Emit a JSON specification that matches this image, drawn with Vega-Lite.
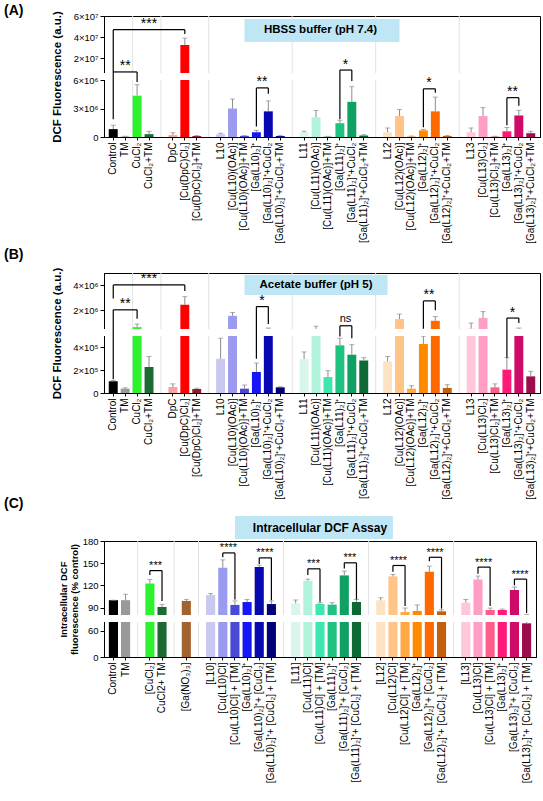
{
  "$schema": "https://vega.github.io/schema/vega-lite/v6.json",
  "padding": {"left": 3, "top": 3, "right": 2, "bottom": 2},
  "config": {
    "font": "Liberation Sans",
    "view": {"stroke": "#000", "strokeWidth": 1},
    "axis": {"domainColor": "#000", "tickColor": "#000", "labelColor": "#000", "titleColor": "#000", "grid": false, "labelFont": "Liberation Sans", "titleFont": "Liberation Sans"},
    "title": {"font": "Liberation Sans", "color": "#000"},
    "text": {"font": "Liberation Sans", "color": "#000"}
  },
  "datasets": {
    "bars": [
      {"p": "A", "x": "Control", "k": "ctrl", "v": 830000, "e": 1240000},
      {"p": "A", "x": "TM", "k": "tm", "v": 50000, "e": 80000},
      {"p": "A", "x": "CuCl₂", "k": "cu", "v": 4350000, "e": 5500000},
      {"p": "A", "x": "CuCl₂+TM", "k": "cutm", "v": 300000, "e": 600000},
      {"p": "A", "x": "DpC", "k": "dpc", "v": 200000, "e": 450000},
      {"p": "A", "x": "[Cu(DpC)Cl₂]", "k": "cudpc", "v": 32500000, "e": 39000000},
      {"p": "A", "x": "[Cu(DpC)Cl₂]+TM", "k": "cudpctm", "v": 100000, "e": 150000},
      {"p": "A", "x": "L10", "k": "l10", "v": 300000, "e": 400000},
      {"p": "A", "x": "[Cu(L10)(OAc)]", "k": "cul10", "v": 3000000, "e": 4000000},
      {"p": "A", "x": "[Cu(L10)(OAc)]+TM", "k": "cul10tm", "v": 120000, "e": 150000},
      {"p": "A", "x": "[Ga(L10)₂]⁺", "k": "gal10", "v": 500000, "e": 700000},
      {"p": "A", "x": "[Ga(L10)₂]⁺+CuCl₂", "k": "gal10cu", "v": 2700000, "e": 3800000},
      {"p": "A", "x": "[Ga(L10)₂]⁺+CuCl₂+TM", "k": "gal10cutm", "v": 100000, "e": 150000},
      {"p": "A", "x": "L11", "k": "l11", "v": 500000, "e": 600000},
      {"p": "A", "x": "[Cu(L11)(OAc)]", "k": "cul11", "v": 2070000, "e": 2800000},
      {"p": "A", "x": "[Cu(L11)(OAc)]+TM", "k": "cul11tm", "v": 50000, "e": 70000},
      {"p": "A", "x": "[Ga(L11)₂]⁺", "k": "gal11", "v": 1450000, "e": 1760000},
      {"p": "A", "x": "[Ga(L11)₂]⁺+CuCl₂", "k": "gal11cu", "v": 3700000, "e": 5300000},
      {"p": "A", "x": "[Ga(L11)₂]⁺+CuCl₂+TM", "k": "gal11cutm", "v": 150000, "e": 250000},
      {"p": "A", "x": "L12", "k": "l12", "v": 500000, "e": 950000},
      {"p": "A", "x": "[Cu(L12)(OAc)]", "k": "cul12", "v": 2200000, "e": 2900000},
      {"p": "A", "x": "[Cu(L12)(OAc)]+TM", "k": "cul12tm", "v": 60000, "e": 100000},
      {"p": "A", "x": "[Ga(L12)₂]⁺", "k": "gal12", "v": 700000, "e": 800000},
      {"p": "A", "x": "[Ga(L12)₂]⁺+CuCl₂", "k": "gal12cu", "v": 2700000, "e": 4200000},
      {"p": "A", "x": "[Ga(L12)₂]⁺+CuCl₂+TM", "k": "gal12cutm", "v": 100000, "e": 150000},
      {"p": "A", "x": "L13", "k": "l13", "v": 500000, "e": 950000},
      {"p": "A", "x": "[Cu(L13)Cl₂]", "k": "cul13", "v": 2200000, "e": 3100000},
      {"p": "A", "x": "[Cu(L13)Cl₂]+TM", "k": "cul13tm", "v": 50000, "e": 80000},
      {"p": "A", "x": "[Ga(L13)₂]⁺", "k": "gal13", "v": 600000, "e": 1000000},
      {"p": "A", "x": "[Ga(L13)₂]⁺+CuCl₂", "k": "gal13cu", "v": 2270000, "e": 2800000},
      {"p": "A", "x": "[Ga(L13)₂]⁺+CuCl₂+TM", "k": "gal13cutm", "v": 400000, "e": 600000},

      {"p": "B", "x": "Control", "k": "ctrl", "v": 103000, "e": 110000},
      {"p": "B", "x": "TM", "k": "tm", "v": 38000, "e": 46000},
      {"p": "B", "x": "CuCl₂", "k": "cu", "v": 650000, "e": 900000},
      {"p": "B", "x": "CuCl₂+TM", "k": "cutm", "v": 228000, "e": 320000},
      {"p": "B", "x": "DpC", "k": "dpc", "v": 53000, "e": 80000},
      {"p": "B", "x": "[Cu(DpC)Cl₂]", "k": "cudpc", "v": 2440000, "e": 3100000},
      {"p": "B", "x": "[Cu(DpC)Cl₂]+TM", "k": "cudpctm", "v": 35000, "e": 42000},
      {"p": "B", "x": "L10", "k": "l10", "v": 300000, "e": 480000},
      {"p": "B", "x": "[Cu(L10)(OAc)]", "k": "cul10", "v": 1560000, "e": 1830000},
      {"p": "B", "x": "[Cu(L10)(OAc)]+TM", "k": "cul10tm", "v": 38000, "e": 70000},
      {"p": "B", "x": "[Ga(L10)₂]⁺", "k": "gal10", "v": 184000, "e": 263000},
      {"p": "B", "x": "[Ga(L10)₂]⁺+CuCl₂", "k": "gal10cu", "v": 503000, "e": 580000},
      {"p": "B", "x": "[Ga(L10)₂]⁺+CuCl₂+TM", "k": "gal10cutm", "v": 50000, "e": 55000},
      {"p": "B", "x": "L11", "k": "l11", "v": 298000, "e": 360000},
      {"p": "B", "x": "[Cu(L11)(OAc)]", "k": "cul11", "v": 510000, "e": 720000},
      {"p": "B", "x": "[Cu(L11)(OAc)]+TM", "k": "cul11tm", "v": 140000, "e": 196000},
      {"p": "B", "x": "[Ga(L11)₂]⁺", "k": "gal11", "v": 418000, "e": 480000},
      {"p": "B", "x": "[Ga(L11)₂]⁺+CuCl₂", "k": "gal11cu", "v": 336000, "e": 424000},
      {"p": "B", "x": "[Ga(L11)₂]⁺+CuCl₂+TM", "k": "gal11cutm", "v": 284000, "e": 310000},
      {"p": "B", "x": "L12", "k": "l12", "v": 278000, "e": 320000},
      {"p": "B", "x": "[Cu(L12)(OAc)]", "k": "cul12", "v": 1300000, "e": 1700000},
      {"p": "B", "x": "[Cu(L12)(OAc)]+TM", "k": "cul12tm", "v": 38000, "e": 64000},
      {"p": "B", "x": "[Ga(L12)₂]⁺", "k": "gal12", "v": 430000, "e": 498000},
      {"p": "B", "x": "[Ga(L12)₂]⁺+CuCl₂", "k": "gal12cu", "v": 1160000, "e": 1500000},
      {"p": "B", "x": "[Ga(L12)₂]⁺+CuCl₂+TM", "k": "gal12cutm", "v": 44000, "e": 73000},
      {"p": "B", "x": "L13", "k": "l13", "v": 530000, "e": 980000},
      {"p": "B", "x": "[Cu(L13)Cl₂]", "k": "cul13", "v": 1380000, "e": 1900000},
      {"p": "B", "x": "[Cu(L13)Cl₂]+TM", "k": "cul13tm", "v": 50000, "e": 80000},
      {"p": "B", "x": "[Ga(L13)₂]⁺", "k": "gal13", "v": 205000, "e": 310000},
      {"p": "B", "x": "[Ga(L13)₂]⁺+CuCl₂", "k": "gal13cu", "v": 503000, "e": 580000},
      {"p": "B", "x": "[Ga(L13)₂]⁺+CuCl₂+TM", "k": "gal13cutm", "v": 146000, "e": 190000},

      {"p": "C", "x": "Control", "k": "ctrl", "v": 100, "e": 100},
      {"p": "C", "x": "TM", "k": "tm", "v": 100, "e": 108},
      {"p": "C", "x": "[CuCl₂]", "k": "cu", "v": 122.7, "e": 128},
      {"p": "C", "x": "CuCl2+ TM", "k": "cutm", "v": 90.9, "e": 94.4},
      {"p": "C", "x": "[Ga(NO₃)₃]", "k": "ga3", "v": 99, "e": 101},
      {"p": "C", "x": "[L10]", "k": "l10", "v": 107, "e": 109},
      {"p": "C", "x": "[Cu(L10)Cl]", "k": "cul10", "v": 143.7, "e": 154.5},
      {"p": "C", "x": "[Cu(L10)Cl] + [TM]", "k": "cul10tm", "v": 93.6, "e": 99},
      {"p": "C", "x": "[Ga(L10)₂]⁺", "k": "gal10", "v": 97.5, "e": 101},
      {"p": "C", "x": "[Ga(L10)₂]⁺+ [CuCl₂]", "k": "gal10cu", "v": 144.7, "e": 147.4},
      {"p": "C", "x": "[Ga(L10)₂]⁺+ [CuCl₂] + [TM]", "k": "gal10cutm", "v": 94.8, "e": 99},
      {"p": "C", "x": "[L11]", "k": "l11", "v": 95.8, "e": 100.3},
      {"p": "C", "x": "[Cu(L11)Cl]", "k": "cul11", "v": 126.2, "e": 128.5},
      {"p": "C", "x": "[Cu(L11)Cl] + [TM]", "k": "cul11tm", "v": 95, "e": 96.7},
      {"p": "C", "x": "[Ga(L11)₂]⁺", "k": "gal11", "v": 94, "e": 96.7},
      {"p": "C", "x": "[Ga(L11)₂]⁺+ [CuCl₂]", "k": "gal11cu", "v": 133.5, "e": 139.3},
      {"p": "C", "x": "[Ga(L11)₂]⁺+ [CuCl₂] + [TM]", "k": "gal11cutm", "v": 97.5, "e": 101},
      {"p": "C", "x": "[L12]", "k": "l12", "v": 99.8, "e": 103.4},
      {"p": "C", "x": "[Cu(L12)Cl]", "k": "cul12", "v": 132.2, "e": 134.8},
      {"p": "C", "x": "[Cu(L12)Cl] + [TM]", "k": "cul12tm", "v": 84, "e": 89.4},
      {"p": "C", "x": "[Ga(L12)₂]⁺", "k": "gal12", "v": 85.5, "e": 93.6},
      {"p": "C", "x": "[Ga(L12)₂]⁺+ [CuCl₂]", "k": "gal12cu", "v": 138.4, "e": 146},
      {"p": "C", "x": "[Ga(L12)₂]⁺+ [CuCl₂] + [TM]", "k": "gal12cutm", "v": 85, "e": 87},
      {"p": "C", "x": "[L13]", "k": "l13", "v": 96.7, "e": 101},
      {"p": "C", "x": "[Cu(L13)Cl]", "k": "cul13", "v": 128, "e": 132.6},
      {"p": "C", "x": "[Cu(L13)Cl] + [TM]", "k": "cul13tm", "v": 86.8, "e": 89.4},
      {"p": "C", "x": "[Ga(L13)₂]⁺", "k": "gal13", "v": 86.8, "e": 88},
      {"p": "C", "x": "[Ga(L13)₂]⁺+ [CuCl₂]", "k": "gal13cu", "v": 113.8, "e": 117.8},
      {"p": "C", "x": "[Ga(L13)₂]⁺+ [CuCl₂] + [TM]", "k": "gal13cutm", "v": 77, "e": 80.5}
    ],
    "seps": [
      {"p": "A", "x": "_1"}, {"p": "A", "x": "_2"}, {"p": "A", "x": "_3"}, {"p": "A", "x": "_4"}, {"p": "A", "x": "_5"},
      {"p": "B", "x": "_1"}, {"p": "B", "x": "_2"}, {"p": "B", "x": "_3"}, {"p": "B", "x": "_4"}, {"p": "B", "x": "_5"},
      {"p": "C", "x": "_1"}, {"p": "C", "x": "_2"}, {"p": "C", "x": "_3"}, {"p": "C", "x": "_4"}, {"p": "C", "x": "_5"}, {"p": "C", "x": "_6"}
    ],
    "edges": [
      {"p": "A", "x": "CuCl₂"}, {"p": "B", "x": "CuCl₂"}
    ],
    "brk": [
      {"p": "A", "lo": 6000000, "hi": 6000001},
      {"p": "B", "lo": 500000, "hi": 500001},
      {"p": "C", "lo": 80, "hi": 80.001}
    ],
    "boxes": [
      {"p": "A", "a": "[Cu(L10)(OAc)]+TM", "b": "[Cu(L12)(OAc)]", "lo": 35400000, "hi": 57200000, "m": "[Cu(L11)(OAc)]", "tv": 46300000, "t": "HBSS buffer (pH 7.4)"},
      {"p": "B", "a": "[Cu(L10)(OAc)]+TM", "b": "L12", "lo": 3230000, "hi": 4840000, "m": "[Cu(L11)(OAc)]", "tv": 4040000, "t": "Acetate buffer (pH 5)"},
      {"p": "C", "a": "[Cu(L10)Cl] + [TM]", "b": "[Cu(L12)Cl]", "lo": 182.7, "hi": 213.8, "m": "[Cu(L11)Cl] + [TM]", "tv": 198, "t": "Intracellular DCF Assay"}
    ],
    "brackets": [
      {"p": "A", "x": "Control", "b": "CuCl₂", "m": "TM", "adj": false, "top": 7000000, "la": 1860000, "lb": 5800000, "s": "**"},
      {"p": "A", "x": "Control", "b": "[Cu(DpC)Cl₂]", "m": "CuCl₂+TM", "adj": false, "top": 47000000, "la": 7000000, "lb": 43000000, "s": "***"},
      {"p": "A", "x": "[Ga(L10)₂]⁺", "b": "[Ga(L10)₂]⁺+CuCl₂", "m": "", "adj": true, "top": 5170000, "la": 1100000, "lb": 4550000, "s": "**"},
      {"p": "A", "x": "[Ga(L11)₂]⁺", "b": "[Ga(L11)₂]⁺+CuCl₂", "m": "", "adj": true, "top": 8800000, "la": 1860000, "lb": 5900000, "s": "*"},
      {"p": "A", "x": "[Ga(L12)₂]⁺", "b": "[Ga(L12)₂]⁺+CuCl₂", "m": "", "adj": true, "top": 5070000, "la": 1030000, "lb": 4650000, "s": "*"},
      {"p": "A", "x": "[Ga(L13)₂]⁺", "b": "[Ga(L13)₂]⁺+CuCl₂", "m": "", "adj": true, "top": 4140000, "la": 1240000, "lb": 3300000, "s": "**"},
      {"p": "B", "x": "Control", "b": "CuCl₂", "m": "TM", "adj": false, "top": 2040000, "la": 120000, "lb": 1320000, "s": "**"},
      {"p": "B", "x": "Control", "b": "[Cu(DpC)Cl₂]", "m": "CuCl₂+TM", "adj": false, "top": 4040000, "la": 2950000, "lb": 3560000, "s": "***"},
      {"p": "B", "x": "[Ga(L10)₂]⁺", "b": "[Ga(L10)₂]⁺+CuCl₂", "m": "", "adj": true, "top": 2300000, "la": 300000, "lb": 900000, "s": "*"},
      {"p": "B", "x": "[Ga(L11)₂]⁺", "b": "[Ga(L11)₂]⁺+CuCl₂", "m": "", "adj": true, "top": 760000, "la": 495000, "lb": 480000, "s": "ns"},
      {"p": "B", "x": "[Ga(L12)₂]⁺", "b": "[Ga(L12)₂]⁺+CuCl₂", "m": "", "adj": true, "top": 2760000, "la": 530000, "lb": 2000000, "s": "**"},
      {"p": "B", "x": "[Ga(L13)₂]⁺", "b": "[Ga(L13)₂]⁺+CuCl₂", "m": "", "adj": true, "top": 1380000, "la": 310000, "lb": 980000, "s": "*"},
      {"p": "C", "x": "[CuCl₂]", "b": "CuCl2+ TM", "m": "", "adj": true, "top": 140, "la": 134, "lb": 99, "s": "***"},
      {"p": "C", "x": "[Cu(L10)Cl]", "b": "[Cu(L10)Cl] + [TM]", "m": "", "adj": true, "top": 163.9, "la": 158, "lb": 101, "s": "****"},
      {"p": "C", "x": "[Ga(L10)₂]⁺+ [CuCl₂]", "b": "[Ga(L10)₂]⁺+ [CuCl₂] + [TM]", "m": "", "adj": true, "top": 157.2, "la": 149, "lb": 100, "s": "****"},
      {"p": "C", "x": "[Cu(L11)Cl]", "b": "[Cu(L11)Cl] + [TM]", "m": "", "adj": true, "top": 142.4, "la": 134, "lb": 98, "s": "***"},
      {"p": "C", "x": "[Ga(L11)₂]⁺+ [CuCl₂]", "b": "[Ga(L11)₂]⁺+ [CuCl₂] + [TM]", "m": "", "adj": true, "top": 150.5, "la": 143, "lb": 101, "s": "***"},
      {"p": "C", "x": "[Cu(L12)Cl]", "b": "[Cu(L12)Cl] + [TM]", "m": "", "adj": true, "top": 146.9, "la": 138.4, "lb": 92, "s": "****"},
      {"p": "C", "x": "[Ga(L12)₂]⁺+ [CuCl₂]", "b": "[Ga(L12)₂]⁺+ [CuCl₂] + [TM]", "m": "", "adj": true, "top": 158, "la": 152.7, "lb": 88.6, "s": "****"},
      {"p": "C", "x": "[Cu(L13)Cl]", "b": "[Cu(L13)Cl] + [TM]", "m": "", "adj": true, "top": 144.7, "la": 135.8, "lb": 92, "s": "****"},
      {"p": "C", "x": "[Ga(L13)₂]⁺+ [CuCl₂]", "b": "[Ga(L13)₂]⁺+ [CuCl₂] + [TM]", "m": "", "adj": true, "top": 128.5, "la": 120, "lb": 82.7, "s": "****"}
    ]
  },
  "spacing": -4,
  "vconcat": [
    {
      "spacing": 3,
      "vconcat": [
        {
          "width": 436,
          "height": 121,
          "title": {"text": "(A)", "anchor": "start", "frame": "group", "dx": -100, "offset": -7, "fontSize": 14, "fontWeight": "bold"},
          "layer": [
            {"data": {"name": "seps"}, "transform": [{"filter": "datum.p=='A'"}], "mark": {"type": "rule", "color": "#e2e2e2"}, "encoding": {"x": {"field": "x", "type": "nominal"}}},
            {"data": {"name": "edges"}, "transform": [{"filter": "datum.p=='A'"}], "mark": {"type": "rule", "color": "#e2e2e2"}, "encoding": {"x": {"field": "x", "type": "nominal", "bandPosition": 0}}},
            {"data": {"name": "bars"}, "transform": [{"filter": "datum.p=='A'"}], "mark": {"type": "bar"},
              "encoding": {
                "x": {"field": "x", "type": "nominal",
                  "scale": {"domain": ["Control","TM","CuCl₂","CuCl₂+TM","_1","DpC","[Cu(DpC)Cl₂]","[Cu(DpC)Cl₂]+TM","_2","L10","[Cu(L10)(OAc)]","[Cu(L10)(OAc)]+TM","[Ga(L10)₂]⁺","[Ga(L10)₂]⁺+CuCl₂","[Ga(L10)₂]⁺+CuCl₂+TM","_3","L11","[Cu(L11)(OAc)]","[Cu(L11)(OAc)]+TM","[Ga(L11)₂]⁺","[Ga(L11)₂]⁺+CuCl₂","[Ga(L11)₂]⁺+CuCl₂+TM","_4","L12","[Cu(L12)(OAc)]","[Cu(L12)(OAc)]+TM","[Ga(L12)₂]⁺","[Ga(L12)₂]⁺+CuCl₂","[Ga(L12)₂]⁺+CuCl₂+TM","_5","L13","[Cu(L13)Cl₂]","[Cu(L13)Cl₂]+TM","[Ga(L13)₂]⁺","[Ga(L13)₂]⁺+CuCl₂","[Ga(L13)₂]⁺+CuCl₂+TM"], "paddingInner": 0.25, "paddingOuter": 0.4},
                  "axis": {"title": null, "labelAngle": 270, "labelFontSize": 10, "labelPadding": 2, "tickSize": 3, "labelLimit": 200, "labelExpr": "indexof(datum.label,'_')==0 ? '' : datum.label", "tickOpacity": {"condition": {"test": "indexof(datum.value,'_')==0", "value": 0}, "value": 1}}},
                "y": {"field": "v", "type": "quantitative", "scale": {"domain": [0, 6000000, 6000001, 60000000], "range": [121, 64, 57, 0], "nice": false},
                  "axis": {"title": "DCF Fluorescence (a.u.)", "titleFontSize": 11.5, "titleFontWeight": "bold", "titlePadding": 10, "values": [0, 3000000, 6000000, 20000000, 40000000, 60000000], "tickCount": 20, "labelExpr": "datum.value==0?'0':datum.value==3000000?'3×10⁶':datum.value==6000000?'6×10⁶':datum.value==20000000?'2×10⁷':datum.value==40000000?'4×10⁷':'6×10⁷'", "labelFontSize": 9.5, "labelOverlap": false, "labelFlush": false, "tickSize": 4}},
                "color": {"field": "k", "type": "nominal", "legend": null,
                  "scale": {"domain": ["ctrl","tm","cu","cutm","dpc","cudpc","cudpctm","ga3","l10","cul10","cul10tm","gal10","gal10cu","gal10cutm","l11","cul11","cul11tm","gal11","gal11cu","gal11cutm","l12","cul12","cul12tm","gal12","gal12cu","gal12cutm","l13","cul13","cul13tm","gal13","gal13cu","gal13cutm"],
                    "range": ["#000000","#999999","#2df22d","#1d6a34","#f5a3a3","#ff0000","#8e1b2e","#a2622e","#c8c8f0","#9a9af0","#4a4ad6","#1515f5","#0808b0","#000078","#d8f7ea","#b0f2da","#3fe6b0","#1fc27e","#11a063","#0d6a36","#fde2c4","#ffc486","#ffa844","#ff8a00","#ff6a00","#c2600c","#ffc6dc","#ff9dc4","#ff5e8c","#ff1a7a","#d00a68","#9a0e4c"]}}
              }},
            {"data": {"name": "bars"}, "transform": [{"filter": "datum.p=='A'"}], "mark": {"type": "rule", "color": "#8c8c8c"},
              "encoding": {"x": {"field": "x", "type": "nominal"}, "y": {"field": "v", "type": "quantitative", "scale": {"domain": [0, 6000000, 6000001, 60000000], "range": [121, 64, 57, 0], "nice": false}}, "y2": {"field": "e"}}},
            {"data": {"name": "bars"}, "transform": [{"filter": "datum.p=='A'"}], "mark": {"type": "tick", "color": "#8c8c8c", "size": 5, "thickness": 1},
              "encoding": {"x": {"field": "x", "type": "nominal"}, "y": {"field": "e", "type": "quantitative", "scale": {"domain": [0, 6000000, 6000001, 60000000], "range": [121, 64, 57, 0], "nice": false}}}},
            {"data": {"name": "brk"}, "transform": [{"filter": "datum.p=='A'"}], "mark": {"type": "rect", "color": "#ffffff"},
              "encoding": {"y": {"field": "lo", "type": "quantitative", "scale": {"domain": [0, 6000000, 6000001, 60000000], "range": [121, 64, 57, 0], "nice": false}}, "y2": {"field": "hi"}}},
            {"data": {"name": "boxes"}, "transform": [{"filter": "datum.p=='A'"}], "mark": {"type": "rect", "color": "#bfe6f5"},
              "encoding": {"x": {"field": "a", "type": "nominal"}, "x2": {"field": "b"}, "y": {"field": "lo", "type": "quantitative", "scale": {"domain": [0, 6000000, 6000001, 60000000], "range": [121, 64, 57, 0], "nice": false}}, "y2": {"field": "hi"}}},
            {"data": {"name": "boxes"}, "transform": [{"filter": "datum.p=='A'"}], "mark": {"type": "text", "fontSize": 11.5, "fontWeight": "bold", "baseline": "middle"},
              "encoding": {"x": {"field": "m", "type": "nominal", "bandPosition": 1}, "y": {"field": "tv", "type": "quantitative", "scale": {"domain": [0, 6000000, 6000001, 60000000], "range": [121, 64, 57, 0], "nice": false}}, "text": {"field": "t"}}},
            {"data": {"name": "brackets"}, "transform": [{"filter": "datum.p=='A'"}], "mark": {"type": "rule", "color": "#000", "strokeWidth": 1.2},
              "encoding": {"x": {"field": "x", "type": "nominal"}, "x2": {"field": "b"}, "y": {"field": "top", "type": "quantitative", "scale": {"domain": [0, 6000000, 6000001, 60000000], "range": [121, 64, 57, 0], "nice": false}}}},
            {"data": {"name": "brackets"}, "transform": [{"filter": "datum.p=='A'"}], "mark": {"type": "rule", "color": "#000", "strokeWidth": 1.2},
              "encoding": {"x": {"field": "x", "type": "nominal"}, "y": {"field": "la", "type": "quantitative", "scale": {"domain": [0, 6000000, 6000001, 60000000], "range": [121, 64, 57, 0], "nice": false}}, "y2": {"field": "top"}}},
            {"data": {"name": "brackets"}, "transform": [{"filter": "datum.p=='A'"}], "mark": {"type": "rule", "color": "#000", "strokeWidth": 1.2},
              "encoding": {"x": {"field": "b", "type": "nominal"}, "y": {"field": "lb", "type": "quantitative", "scale": {"domain": [0, 6000000, 6000001, 60000000], "range": [121, 64, 57, 0], "nice": false}}, "y2": {"field": "top"}}},
            {"data": {"name": "brackets"}, "transform": [{"filter": "datum.p=='A' && !datum.adj"}], "mark": {"type": "text", "fontSize": 14, "dy": -1.5, "baseline": "alphabetic"},
              "encoding": {"x": {"field": "m", "type": "nominal"}, "y": {"field": "top", "type": "quantitative", "scale": {"domain": [0, 6000000, 6000001, 60000000], "range": [121, 64, 57, 0], "nice": false}}, "text": {"field": "s"}}},
            {"data": {"name": "brackets"}, "transform": [{"filter": "datum.p=='A' && datum.adj"}], "mark": {"type": "text", "fontSize": 14, "dy": -1.5, "baseline": "alphabetic"},
              "encoding": {"x": {"field": "x", "type": "nominal", "bandPosition": 1.12}, "y": {"field": "top", "type": "quantitative", "scale": {"domain": [0, 6000000, 6000001, 60000000], "range": [121, 64, 57, 0], "nice": false}}, "text": {"field": "s"}}}
          ]
        },
        {
          "width": 436,
          "height": 120,
          "title": {"text": "(B)", "anchor": "start", "frame": "group", "dx": -100, "offset": 5, "fontSize": 14, "fontWeight": "bold"},
          "layer": [
            {"data": {"name": "seps"}, "transform": [{"filter": "datum.p=='B'"}], "mark": {"type": "rule", "color": "#e2e2e2"}, "encoding": {"x": {"field": "x", "type": "nominal"}}},
            {"data": {"name": "edges"}, "transform": [{"filter": "datum.p=='B'"}], "mark": {"type": "rule", "color": "#e2e2e2"}, "encoding": {"x": {"field": "x", "type": "nominal", "bandPosition": 0}}},
            {"data": {"name": "bars"}, "transform": [{"filter": "datum.p=='B'"}], "mark": {"type": "bar"},
              "encoding": {
                "x": {"field": "x", "type": "nominal",
                  "scale": {"domain": ["Control","TM","CuCl₂","CuCl₂+TM","_1","DpC","[Cu(DpC)Cl₂]","[Cu(DpC)Cl₂]+TM","_2","L10","[Cu(L10)(OAc)]","[Cu(L10)(OAc)]+TM","[Ga(L10)₂]⁺","[Ga(L10)₂]⁺+CuCl₂","[Ga(L10)₂]⁺+CuCl₂+TM","_3","L11","[Cu(L11)(OAc)]","[Cu(L11)(OAc)]+TM","[Ga(L11)₂]⁺","[Ga(L11)₂]⁺+CuCl₂","[Ga(L11)₂]⁺+CuCl₂+TM","_4","L12","[Cu(L12)(OAc)]","[Cu(L12)(OAc)]+TM","[Ga(L12)₂]⁺","[Ga(L12)₂]⁺+CuCl₂","[Ga(L12)₂]⁺+CuCl₂+TM","_5","L13","[Cu(L13)Cl₂]","[Cu(L13)Cl₂]+TM","[Ga(L13)₂]⁺","[Ga(L13)₂]⁺+CuCl₂","[Ga(L13)₂]⁺+CuCl₂+TM"], "paddingInner": 0.25, "paddingOuter": 0.4},
                  "axis": {"title": null, "labelAngle": 270, "labelFontSize": 10, "labelPadding": 2, "tickSize": 3, "labelLimit": 200, "labelExpr": "indexof(datum.label,'_')==0 ? '' : datum.label", "tickOpacity": {"condition": {"test": "indexof(datum.value,'_')==0", "value": 0}, "value": 1}}},
                "y": {"field": "v", "type": "quantitative", "scale": {"domain": [0, 500000, 500001, 5000000], "range": [120, 63, 56, 0], "nice": false},
                  "axis": {"title": "DCF Fluorescence (a.u.)", "titleFontSize": 11.5, "titleFontWeight": "bold", "titlePadding": 10, "values": [0, 200000, 400000, 2000000, 4000000], "tickCount": 20, "labelExpr": "datum.value==0?'0':datum.value==200000?'2×10⁵':datum.value==400000?'4×10⁵':datum.value==2000000?'2×10⁶':'4×10⁶'", "labelFontSize": 9.5, "labelOverlap": false, "labelFlush": false, "tickSize": 4}},
                "color": {"field": "k", "type": "nominal", "legend": null,
                  "scale": {"domain": ["ctrl","tm","cu","cutm","dpc","cudpc","cudpctm","ga3","l10","cul10","cul10tm","gal10","gal10cu","gal10cutm","l11","cul11","cul11tm","gal11","gal11cu","gal11cutm","l12","cul12","cul12tm","gal12","gal12cu","gal12cutm","l13","cul13","cul13tm","gal13","gal13cu","gal13cutm"],
                    "range": ["#000000","#999999","#2df22d","#1d6a34","#f5a3a3","#ff0000","#8e1b2e","#a2622e","#c8c8f0","#9a9af0","#4a4ad6","#1515f5","#0808b0","#000078","#d8f7ea","#b0f2da","#3fe6b0","#1fc27e","#11a063","#0d6a36","#fde2c4","#ffc486","#ffa844","#ff8a00","#ff6a00","#c2600c","#ffc6dc","#ff9dc4","#ff5e8c","#ff1a7a","#d00a68","#9a0e4c"]}}
              }},
            {"data": {"name": "bars"}, "transform": [{"filter": "datum.p=='B'"}], "mark": {"type": "rule", "color": "#8c8c8c"},
              "encoding": {"x": {"field": "x", "type": "nominal"}, "y": {"field": "v", "type": "quantitative", "scale": {"domain": [0, 500000, 500001, 5000000], "range": [120, 63, 56, 0], "nice": false}}, "y2": {"field": "e"}}},
            {"data": {"name": "bars"}, "transform": [{"filter": "datum.p=='B'"}], "mark": {"type": "tick", "color": "#8c8c8c", "size": 5, "thickness": 1},
              "encoding": {"x": {"field": "x", "type": "nominal"}, "y": {"field": "e", "type": "quantitative", "scale": {"domain": [0, 500000, 500001, 5000000], "range": [120, 63, 56, 0], "nice": false}}}},
            {"data": {"name": "brk"}, "transform": [{"filter": "datum.p=='B'"}], "mark": {"type": "rect", "color": "#ffffff"},
              "encoding": {"y": {"field": "lo", "type": "quantitative", "scale": {"domain": [0, 500000, 500001, 5000000], "range": [120, 63, 56, 0], "nice": false}}, "y2": {"field": "hi"}}},
            {"data": {"name": "boxes"}, "transform": [{"filter": "datum.p=='B'"}], "mark": {"type": "rect", "color": "#bfe6f5"},
              "encoding": {"x": {"field": "a", "type": "nominal"}, "x2": {"field": "b"}, "y": {"field": "lo", "type": "quantitative", "scale": {"domain": [0, 500000, 500001, 5000000], "range": [120, 63, 56, 0], "nice": false}}, "y2": {"field": "hi"}}},
            {"data": {"name": "boxes"}, "transform": [{"filter": "datum.p=='B'"}], "mark": {"type": "text", "fontSize": 11.5, "fontWeight": "bold", "baseline": "middle"},
              "encoding": {"x": {"field": "m", "type": "nominal"}, "y": {"field": "tv", "type": "quantitative", "scale": {"domain": [0, 500000, 500001, 5000000], "range": [120, 63, 56, 0], "nice": false}}, "text": {"field": "t"}}},
            {"data": {"name": "brackets"}, "transform": [{"filter": "datum.p=='B'"}], "mark": {"type": "rule", "color": "#000", "strokeWidth": 1.2},
              "encoding": {"x": {"field": "x", "type": "nominal"}, "x2": {"field": "b"}, "y": {"field": "top", "type": "quantitative", "scale": {"domain": [0, 500000, 500001, 5000000], "range": [120, 63, 56, 0], "nice": false}}}},
            {"data": {"name": "brackets"}, "transform": [{"filter": "datum.p=='B'"}], "mark": {"type": "rule", "color": "#000", "strokeWidth": 1.2},
              "encoding": {"x": {"field": "x", "type": "nominal"}, "y": {"field": "la", "type": "quantitative", "scale": {"domain": [0, 500000, 500001, 5000000], "range": [120, 63, 56, 0], "nice": false}}, "y2": {"field": "top"}}},
            {"data": {"name": "brackets"}, "transform": [{"filter": "datum.p=='B'"}], "mark": {"type": "rule", "color": "#000", "strokeWidth": 1.2},
              "encoding": {"x": {"field": "b", "type": "nominal"}, "y": {"field": "lb", "type": "quantitative", "scale": {"domain": [0, 500000, 500001, 5000000], "range": [120, 63, 56, 0], "nice": false}}, "y2": {"field": "top"}}},
            {"data": {"name": "brackets"}, "transform": [{"filter": "datum.p=='B' && !datum.adj"}], "mark": {"type": "text", "fontSize": 14, "dy": -1.5, "baseline": "alphabetic"},
              "encoding": {"x": {"field": "m", "type": "nominal"}, "y": {"field": "top", "type": "quantitative", "scale": {"domain": [0, 500000, 500001, 5000000], "range": [120, 63, 56, 0], "nice": false}}, "text": {"field": "s"}}},
            {"data": {"name": "brackets"}, "transform": [{"filter": "datum.p=='B' && datum.adj && datum.s!='ns'"}], "mark": {"type": "text", "fontSize": 14, "dy": -1.5, "baseline": "alphabetic"},
              "encoding": {"x": {"field": "x", "type": "nominal", "bandPosition": 1.12}, "y": {"field": "top", "type": "quantitative", "scale": {"domain": [0, 500000, 500001, 5000000], "range": [120, 63, 56, 0], "nice": false}}, "text": {"field": "s"}}},
            {"data": {"name": "brackets"}, "transform": [{"filter": "datum.p=='B' && datum.s=='ns'"}], "mark": {"type": "text", "fontSize": 11, "dy": -4, "baseline": "alphabetic"},
              "encoding": {"x": {"field": "x", "type": "nominal", "bandPosition": 1.12}, "y": {"field": "top", "type": "quantitative", "scale": {"domain": [0, 500000, 500001, 5000000], "range": [120, 63, 56, 0], "nice": false}}, "text": {"field": "s"}}}
          ]
        }
      ]
    },
    {
      "width": 432,
      "height": 116,
      "title": {"text": "(C)", "anchor": "start", "frame": "group", "dx": -100, "offset": 5, "fontSize": 14, "fontWeight": "bold"},
      "layer": [
        {"data": {"name": "seps"}, "transform": [{"filter": "datum.p=='C'"}], "mark": {"type": "rule", "color": "#e2e2e2"}, "encoding": {"x": {"field": "x", "type": "nominal"}}},
        {"data": {"name": "bars"}, "transform": [{"filter": "datum.p=='C'"}], "mark": {"type": "bar"},
          "encoding": {
            "x": {"field": "x", "type": "nominal",
              "scale": {"domain": ["Control","TM","_1","[CuCl₂]","CuCl2+ TM","_2","[Ga(NO₃)₃]","_3","[L10]","[Cu(L10)Cl]","[Cu(L10)Cl] + [TM]","[Ga(L10)₂]⁺","[Ga(L10)₂]⁺+ [CuCl₂]","[Ga(L10)₂]⁺+ [CuCl₂] + [TM]","_4","[L11]","[Cu(L11)Cl]","[Cu(L11)Cl] + [TM]","[Ga(L11)₂]⁺","[Ga(L11)₂]⁺+ [CuCl₂]","[Ga(L11)₂]⁺+ [CuCl₂] + [TM]","_5","[L12]","[Cu(L12)Cl]","[Cu(L12)Cl] + [TM]","[Ga(L12)₂]⁺","[Ga(L12)₂]⁺+ [CuCl₂]","[Ga(L12)₂]⁺+ [CuCl₂] + [TM]","_6","[L13]","[Cu(L13)Cl]","[Cu(L13)Cl] + [TM]","[Ga(L13)₂]⁺","[Ga(L13)₂]⁺+ [CuCl₂]","[Ga(L13)₂]⁺+ [CuCl₂] + [TM]"], "paddingInner": 0.25, "paddingOuter": 0.4},
              "axis": {"title": null, "labelAngle": 270, "labelFontSize": 10, "labelPadding": 2, "tickSize": 3, "labelLimit": 200, "labelExpr": "indexof(datum.label,'_')==0 ? '' : datum.label", "tickOpacity": {"condition": {"test": "indexof(datum.value,'_')==0", "value": 0}, "value": 1}}},
            "y": {"field": "v", "type": "quantitative", "scale": {"domain": [0, 80, 80.001, 180], "range": [116, 81, 74, 0], "nice": false},
              "axis": {"title": ["Intracellular DCF", "fluorescence (% control)"], "titleFontSize": 9.5, "titleFontWeight": "bold", "titlePadding": 3, "titleLineHeight": 11, "values": [0, 60, 90, 120, 150, 180], "tickCount": 20, "labelFontSize": 9.5, "labelOverlap": false, "labelFlush": false, "tickSize": 4}},
            "color": {"field": "k", "type": "nominal", "legend": null,
              "scale": {"domain": ["ctrl","tm","cu","cutm","dpc","cudpc","cudpctm","ga3","l10","cul10","cul10tm","gal10","gal10cu","gal10cutm","l11","cul11","cul11tm","gal11","gal11cu","gal11cutm","l12","cul12","cul12tm","gal12","gal12cu","gal12cutm","l13","cul13","cul13tm","gal13","gal13cu","gal13cutm"],
                "range": ["#000000","#999999","#2df22d","#1d6a34","#f5a3a3","#ff0000","#8e1b2e","#a2622e","#c8c8f0","#9a9af0","#4a4ad6","#1515f5","#0808b0","#000078","#d8f7ea","#b0f2da","#3fe6b0","#1fc27e","#11a063","#0d6a36","#fde2c4","#ffc486","#ffa844","#ff8a00","#ff6a00","#c2600c","#ffc6dc","#ff9dc4","#ff5e8c","#ff1a7a","#d00a68","#9a0e4c"]}}
          }},
        {"data": {"name": "bars"}, "transform": [{"filter": "datum.p=='C'"}], "mark": {"type": "rule", "color": "#8c8c8c"},
          "encoding": {"x": {"field": "x", "type": "nominal"}, "y": {"field": "v", "type": "quantitative", "scale": {"domain": [0, 80, 80.001, 180], "range": [116, 81, 74, 0], "nice": false}}, "y2": {"field": "e"}}},
        {"data": {"name": "bars"}, "transform": [{"filter": "datum.p=='C'"}], "mark": {"type": "tick", "color": "#8c8c8c", "size": 5, "thickness": 1},
          "encoding": {"x": {"field": "x", "type": "nominal"}, "y": {"field": "e", "type": "quantitative", "scale": {"domain": [0, 80, 80.001, 180], "range": [116, 81, 74, 0], "nice": false}}}},
        {"data": {"name": "brk"}, "transform": [{"filter": "datum.p=='C'"}], "mark": {"type": "rect", "color": "#ffffff"},
          "encoding": {"y": {"field": "lo", "type": "quantitative", "scale": {"domain": [0, 80, 80.001, 180], "range": [116, 81, 74, 0], "nice": false}}, "y2": {"field": "hi"}}},
        {"data": {"name": "boxes"}, "transform": [{"filter": "datum.p=='C'"}], "mark": {"type": "rect", "color": "#bfe6f5"},
          "encoding": {"x": {"field": "a", "type": "nominal"}, "x2": {"field": "b"}, "y": {"field": "lo", "type": "quantitative", "scale": {"domain": [0, 80, 80.001, 180], "range": [116, 81, 74, 0], "nice": false}}, "y2": {"field": "hi"}}},
        {"data": {"name": "boxes"}, "transform": [{"filter": "datum.p=='C'"}], "mark": {"type": "text", "fontSize": 12, "fontWeight": "bold", "baseline": "middle"},
          "encoding": {"x": {"field": "m", "type": "nominal"}, "y": {"field": "tv", "type": "quantitative", "scale": {"domain": [0, 80, 80.001, 180], "range": [116, 81, 74, 0], "nice": false}}, "text": {"field": "t"}}},
        {"data": {"name": "brackets"}, "transform": [{"filter": "datum.p=='C'"}], "mark": {"type": "rule", "color": "#000", "strokeWidth": 1.2},
          "encoding": {"x": {"field": "x", "type": "nominal"}, "x2": {"field": "b"}, "y": {"field": "top", "type": "quantitative", "scale": {"domain": [0, 80, 80.001, 180], "range": [116, 81, 74, 0], "nice": false}}}},
        {"data": {"name": "brackets"}, "transform": [{"filter": "datum.p=='C'"}], "mark": {"type": "rule", "color": "#000", "strokeWidth": 1.2},
          "encoding": {"x": {"field": "x", "type": "nominal"}, "y": {"field": "la", "type": "quantitative", "scale": {"domain": [0, 80, 80.001, 180], "range": [116, 81, 74, 0], "nice": false}}, "y2": {"field": "top"}}},
        {"data": {"name": "brackets"}, "transform": [{"filter": "datum.p=='C'"}], "mark": {"type": "rule", "color": "#000", "strokeWidth": 1.2},
          "encoding": {"x": {"field": "b", "type": "nominal"}, "y": {"field": "lb", "type": "quantitative", "scale": {"domain": [0, 80, 80.001, 180], "range": [116, 81, 74, 0], "nice": false}}, "y2": {"field": "top"}}},
        {"data": {"name": "brackets"}, "transform": [{"filter": "datum.p=='C'"}], "mark": {"type": "text", "fontSize": 11, "dy": -1.5, "baseline": "alphabetic"},
          "encoding": {"x": {"field": "x", "type": "nominal", "bandPosition": 1.12}, "y": {"field": "top", "type": "quantitative", "scale": {"domain": [0, 80, 80.001, 180], "range": [116, 81, 74, 0], "nice": false}}, "text": {"field": "s"}}}
      ]
    }
  ]
}
